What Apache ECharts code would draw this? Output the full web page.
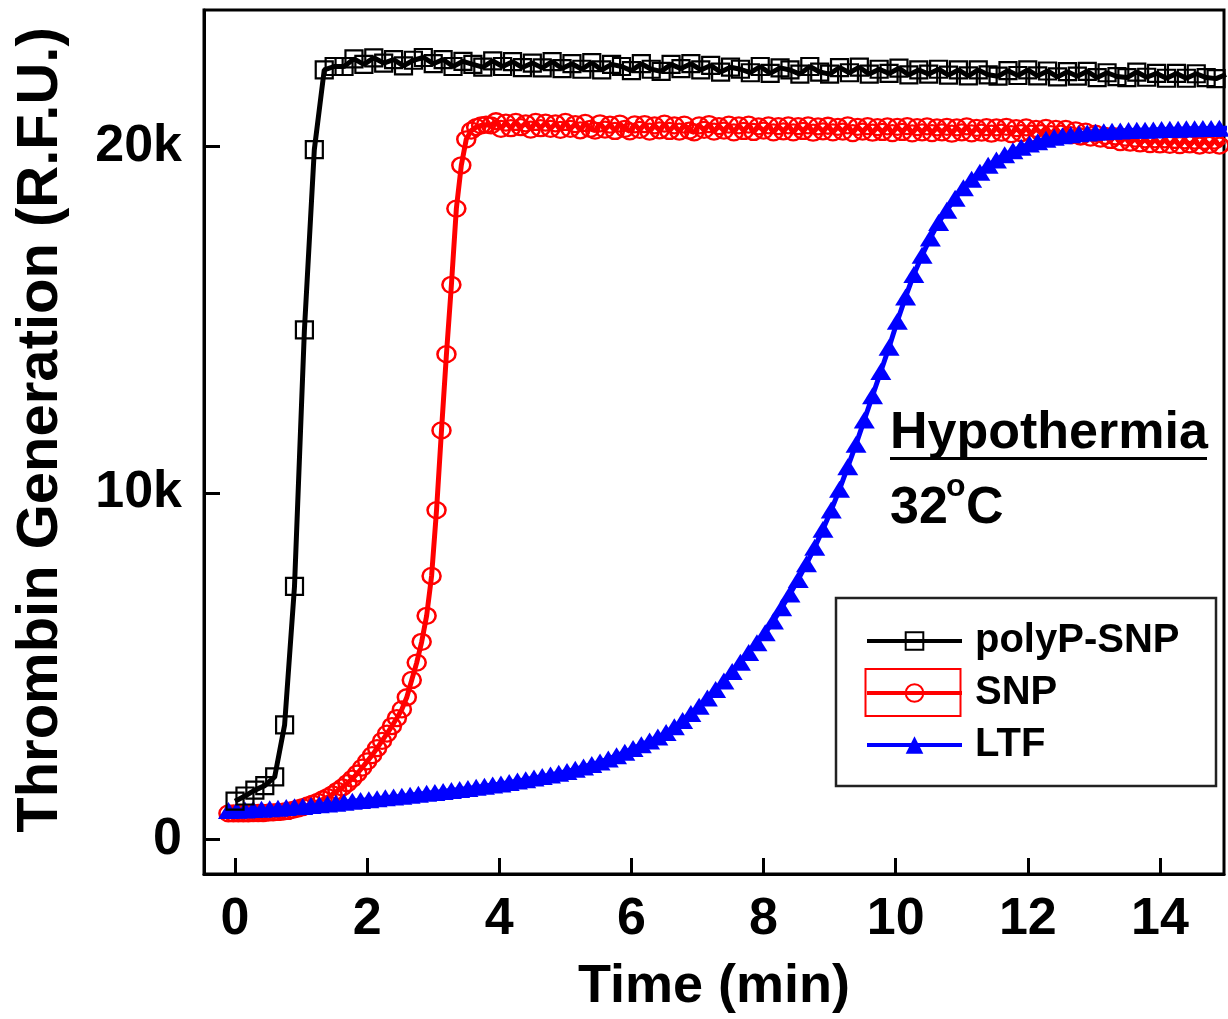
<!DOCTYPE html>
<html><head><meta charset="utf-8">
<script src="https://cdn.jsdelivr.net/npm/echarts@6/dist/echarts.min.js"></script>
<style>html,body{margin:0;padding:0;background:#fff}#chart{width:1228px;height:1019px}</style>
</head><body><div id="chart"></div>
<script>
// ---- data (thrombin generation in thousands of R.F.U.) ----
const seriesNames = ['polyP-SNP', 'SNP', 'LTF'];
const xTickValues = [0, 2, 4, 6, 8, 10, 12, 14];
const yTickValues = [0, 10, 20];
const yTickLabels = ['0', '10k', '20k'];

// polyP-SNP: one reading every 0.15 min starting at 0 min
const polyPStartMin = 0, polyPStepMin = 0.15;
const polyPValues = [
 1.1, 1.25, 1.42, 1.55, 1.8, 3.3, 7.3, 14.7, 19.9, 22.2,
 22.3, 22.3, 22.52, 22.36, 22.55, 22.4, 22.5, 22.32, 22.48, 22.56, 22.38,
 22.5, 22.3, 22.45, 22.36, 22.28, 22.46, 22.3, 22.44, 22.27, 22.4,
 22.26, 22.44, 22.24, 22.38, 22.22, 22.41, 22.2, 22.36, 22.3, 22.18,
 22.38, 22.22, 22.16, 22.36, 22.24, 22.38, 22.2, 22.33, 22.14, 22.28,
 22.22, 22.12, 22.3, 22.1, 22.26, 22.2, 22.08, 22.3, 22.14, 22.08,
 22.27, 22.12, 22.28, 22.08, 22.22, 22.1, 22.25, 22.06, 22.2, 22.08,
 22.22, 22.05, 22.2, 22.03, 22.2, 22.06, 22.02, 22.18, 22.04, 22.2,
 22.03, 22.17, 22.0, 22.15, 22.02, 22.16, 21.98, 22.12, 22.01, 21.98,
 22.14, 21.99, 22.1, 21.96, 22.1, 21.96, 22.09, 21.98, 21.95, 22.07
];

// SNP: one reading every 0.075 min starting at -0.1 min
const snpStartMin = -0.1, snpStepMin = 0.075;
const snpValues = [
 0.75, 0.75, 0.75, 0.75, 0.75, 0.76, 0.76, 0.76, 0.77, 0.78,
 0.79, 0.8, 0.82, 0.85, 0.89, 0.93, 0.98, 1.03, 1.08, 1.15,
 1.22, 1.3, 1.4, 1.5, 1.62, 1.75, 1.9, 2.07, 2.25, 2.43,
 2.63, 2.84, 3.05, 3.27, 3.5, 3.75, 4.1, 4.6, 5.1, 5.7,
 6.45, 7.6, 9.5, 11.8, 14.0, 16.0, 18.2, 19.45, 20.2, 20.45,
 20.55, 20.6, 20.62, 20.6,
 20.72, 20.5, 20.68, 20.52, 20.7, 20.55, 20.66, 20.48, 20.7, 20.52,
 20.68, 20.5, 20.66, 20.47, 20.7, 20.5, 20.64, 20.46, 20.67, 20.5,
 20.45, 20.66, 20.48, 20.62, 20.44, 20.65, 20.5, 20.43, 20.63, 20.47,
 20.64, 20.42, 20.6, 20.46, 20.65, 20.44, 20.6, 20.42, 20.62, 20.45,
 20.4, 20.6, 20.47, 20.64, 20.42, 20.58, 20.45, 20.62, 20.4, 20.6,
 20.44, 20.62, 20.41, 20.57, 20.45, 20.6, 20.4, 20.58, 20.43, 20.6,
 20.4, 20.58, 20.44, 20.6, 20.39, 20.57, 20.43, 20.59, 20.4, 20.56,
 20.42, 20.6, 20.38, 20.56, 20.42, 20.58, 20.39, 20.55, 20.41, 20.57,
 20.38, 20.56, 20.41, 20.58, 20.37, 20.55, 20.4, 20.57, 20.38, 20.54,
 20.4, 20.56, 20.36, 20.54, 20.4, 20.57, 20.37, 20.53, 20.39, 20.55,
 20.36, 20.54, 20.39, 20.56, 20.35, 20.52, 20.38, 20.54, 20.36, 20.5,
 20.38, 20.53, 20.35, 20.5,
 20.36, 20.5, 20.32, 20.46, 20.28, 20.42, 20.25, 20.36, 20.22, 20.3,
 20.18, 20.28, 20.12, 20.25, 20.1, 20.22, 20.08, 20.2, 20.06, 20.2,
 20.05, 20.2, 20.04, 20.18, 20.03, 20.17, 20.05, 20.16, 20.02, 20.15,
 20.04, 20.16, 20.02, 20.14
];

// LTF: one reading every 0.125 min starting at -0.1 min
const ltfStartMin = -0.1, ltfStepMin = 0.125;
const ltfValues = [
 0.83, 0.84, 0.85, 0.86, 0.87, 0.88, 0.9, 0.92, 0.94, 0.95,
 0.98, 1.0, 1.02, 1.04, 1.07, 1.1, 1.12, 1.14, 1.17, 1.2,
 1.22, 1.24, 1.27, 1.3, 1.33, 1.35, 1.38, 1.41, 1.44, 1.47,
 1.5, 1.53, 1.57, 1.6, 1.64, 1.68, 1.72, 1.77, 1.81, 1.86,
 1.91, 1.96, 2.02, 2.09, 2.16, 2.23, 2.32, 2.41, 2.51, 2.62,
 2.73, 2.84, 2.95, 3.08, 3.25, 3.43, 3.63, 3.84, 4.08, 4.32,
 4.57, 4.84, 5.11, 5.39, 5.67, 5.96, 6.3, 6.68, 7.08, 7.5,
 7.95, 8.43, 8.95, 9.5, 10.1, 10.75, 11.4, 12.1, 12.8, 13.5,
 14.2, 14.95, 15.65, 16.3, 16.85, 17.35, 17.8, 18.15, 18.5, 18.8,
 19.05, 19.25, 19.45, 19.6, 19.75, 19.87, 19.97, 20.06, 20.13, 20.2,
 20.26, 20.3, 20.33, 20.36, 20.38, 20.4, 20.42, 20.43, 20.44, 20.45,
 20.46, 20.46, 20.47, 20.48, 20.49, 20.49, 20.5, 20.5, 20.51, 20.51,
 20.52, 20.52
];

function toPairs(start, step, values) {
  return values.map((v, i) => [Math.round((start + i * step) * 1000) / 1000, v]);
}

const FONT = '"Liberation Sans", Arial, Helvetica, sans-serif';
const chart = echarts.init(document.getElementById('chart'), null, {renderer: 'canvas'});

const option = {
  animation: false,
  backgroundColor: '#ffffff',
  grid: {left: 204, right: 4, top: 10, bottom: 144, show: true, borderColor: '#000', borderWidth: 3, backgroundColor: 'transparent'},
  xAxis: {
    type: 'value', min: -0.47, max: 14.97,
    axisLine: {show: true, onZero: false, lineStyle: {color: '#000', width: 3}},
    axisTick: {show: true, inside: true, length: 16, lineStyle: {color: '#000', width: 3}, customValues: xTickValues},
    axisLabel: {customValues: xTickValues, margin: 20, fontSize: 52, fontWeight: 'bold', color: '#000', fontFamily: FONT},
    splitLine: {show: false},
    name: 'Time (min)', nameLocation: 'middle', nameGap: 86,
    nameTextStyle: {fontSize: 54, fontWeight: 'bold', color: '#000', fontFamily: FONT}
  },
  yAxis: {
    type: 'value', min: -1.0, max: 23.93,
    axisLine: {show: true, onZero: false, lineStyle: {color: '#000', width: 3}},
    axisTick: {show: true, inside: true, length: 16, lineStyle: {color: '#000', width: 3}, customValues: yTickValues},
    axisLabel: {customValues: yTickValues, margin: 22, fontSize: 52, fontWeight: 'bold', color: '#000', fontFamily: FONT,
      formatter: v => { const k = yTickValues.indexOf(v); return k >= 0 ? yTickLabels[k] : String(v); }},
    splitLine: {show: false},
    name: 'Thrombin Generation (R.F.U.)', nameLocation: 'middle', nameGap: 134,
    nameTextStyle: {fontSize: 58, fontWeight: 'bold', color: '#000', fontFamily: FONT, padding: [0, 0, 0, 24]}
  },
  legend: {
    orient: 'vertical', left: 865, top: 621, padding: 0, itemGap: 12, itemWidth: 95, itemHeight: 22,
    data: seriesNames, selectedMode: false,
    lineStyle: {width: 4},
    textStyle: {fontSize: 40, fontWeight: 'bold', color: '#000', fontFamily: FONT, padding: [0, 0, 0, 8]}
  },
  graphic: [
    {type: 'rect', z: 100, shape: {x: 836, y: 598, width: 380, height: 188}, style: {fill: 'none', stroke: '#222', lineWidth: 2.5}},
    {type: 'rect', z: 100, shape: {x: 865.5, y: 669, width: 95, height: 47}, style: {fill: 'none', stroke: '#ff0000', lineWidth: 2}},
    {type: 'text', z: 100, x: 890, y: 434, style: {text: 'Hypothermia', font: 'bold 52px ' + FONT, fill: '#000', textVerticalAlign: 'middle', verticalAlign: 'middle'}},
    {type: 'line', z: 100, shape: {x1: 890, y1: 458.5, x2: 1207, y2: 458.5}, style: {stroke: '#000', lineWidth: 3}},
    {type: 'text', z: 100, x: 890, y: 509, style: {text: '32', font: 'bold 52px ' + FONT, fill: '#000', textVerticalAlign: 'middle', verticalAlign: 'middle'}},
    {type: 'text', z: 100, x: 946, y: 487, style: {text: 'o', font: 'bold 32px ' + FONT, fill: '#000', textVerticalAlign: 'middle', verticalAlign: 'middle'}},
    {type: 'text', z: 100, x: 966, y: 509, style: {text: 'C', font: 'bold 52px ' + FONT, fill: '#000', textVerticalAlign: 'middle', verticalAlign: 'middle'}}
  ],
  series: [
    {
      name: 'SNP', type: 'line', data: toPairs(snpStartMin, snpStepMin, snpValues),
      symbol: 'circle', symbolSize: [18, 16], showSymbol: true, showAllSymbol: true,
      lineStyle: {color: '#ff0000', width: 5},
      itemStyle: {color: 'rgba(255,255,255,0)', borderColor: '#ff0000', borderWidth: 2.4},
      emphasis: {disabled: true}
    },
    {
      name: 'LTF', type: 'line', data: toPairs(ltfStartMin, ltfStepMin, ltfValues),
      symbol: 'triangle', symbolSize: [21, 17], showSymbol: true, showAllSymbol: true,
      lineStyle: {color: '#0000ff', width: 5},
      itemStyle: {color: '#0000ff', borderColor: '#0000ff', borderWidth: 0},
      emphasis: {disabled: true}
    },
    {
      name: 'polyP-SNP', type: 'line', data: toPairs(polyPStartMin, polyPStepMin, polyPValues),
      symbol: 'rect', symbolSize: 17, showSymbol: true, showAllSymbol: true,
      lineStyle: {color: '#000000', width: 5},
      itemStyle: {color: 'rgba(255,255,255,0)', borderColor: '#000000', borderWidth: 2.2},
      emphasis: {disabled: true}
    }
  ]
};
chart.setOption(option);
</script>
</body></html>
